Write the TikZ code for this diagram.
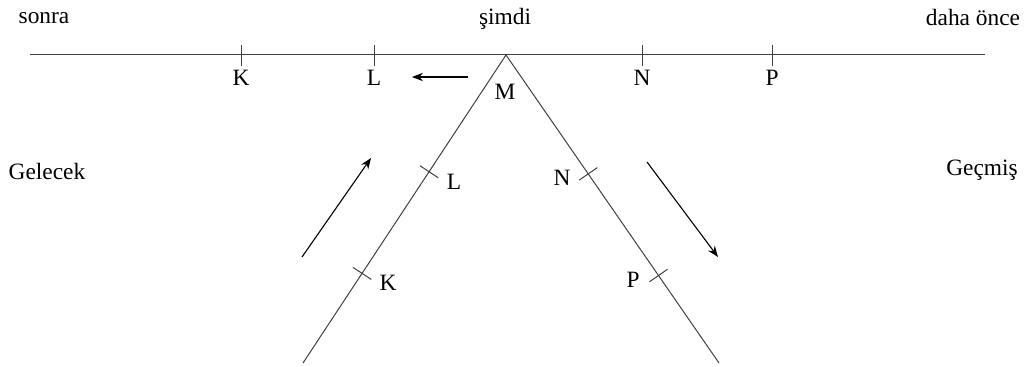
\documentclass[tikz,border=0pt]{standalone}
\usepackage{fontspec}
\setmainfont{Liberation Serif}
\usetikzlibrary{calc,arrows.meta}
\begin{document}
\begin{tikzpicture}[x=0.5pt,y=-0.5pt,
    lbl/.style={inner sep=0pt,font=\fontsize{11.7}{14}\selectfont},
    axis/.style={black!75,line width=0.5pt},
    mv/.style={->,>={Stealth[length=5.5pt,width=4.2pt]},line width=0.55pt}]
    \useasboundingbox (0,0) rectangle (1028,367);

    % time axis
    \coordinate (a1) at (30,55);
    \coordinate (a2) at (985,55);
    \coordinate (M) at (506,55);
    \draw[axis] (a1) -- (a2);
    \node[lbl] (sonra) at (44,18) {sonra};
    \node[lbl] (simdi) at (505,19) {şimdi};
    \node[lbl] (once) at (973,18) {daha önce};

    % ticks on the axis
    \foreach \x/\n in {241/K,374/L,642/N,772/P}{
        \draw[axis] (\x,45) -- (\x,66);
        \node[lbl] (h\n) at (\x,78) {\n};
    }
    \node[lbl] (hM) at (505,92) {M};

    % arrow along the axis
    \coordinate (ha1) at (468,77);
    \coordinate (ha2) at (412,77);
    \draw[mv] (ha1) -- (ha2);

    % the two slanted lines
    \coordinate (lb) at (303,363);
    \coordinate (rb) at (719,363);
    \draw[axis] (M) -- (lb) coordinate[pos=0.379] (tL) coordinate[pos=0.709] (tK);
    \draw[axis] (M) -- (rb) coordinate[pos=0.386] (tN) coordinate[pos=0.716] (tP);

    % ticks on the slanted lines
    \foreach \t in {tL,tK,tN,tP}{
        \draw[axis] ($(\t)!5.5pt!90:(M)$) -- ($(\t)!5.5pt!-90:(M)$);
    }
    \node[lbl] (sL) at (454,182) {L};
    \node[lbl] (sK) at (388,283) {K};
    \node[lbl] (sN) at (562,178) {N};
    \node[lbl] (sP) at (633,280) {P};

    % side labels
    \node[lbl] (gel) at (47,172) {Gelecek};
    \node[lbl] (gec) at (982,170) {Geçmiş};

    % direction arrows
    \coordinate (la1) at (302,257);
    \coordinate (la2) at (371,158);
    \draw[mv] (la1) -- (la2);
    \coordinate (ra1) at (647,162);
    \coordinate (ra2) at (718,257);
    \draw[mv] (ra1) -- (ra2);
\end{tikzpicture}
\end{document}
